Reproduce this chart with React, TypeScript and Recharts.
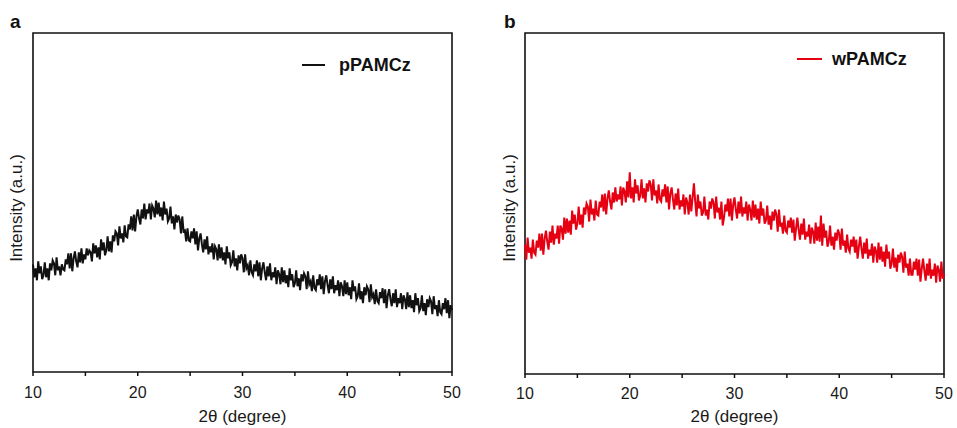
import React from "react";
import { LineChart, Line, XAxis, YAxis, ReferenceArea, Label } from "recharts";

// 2θ sampled every 0.125° from 10° to 50°
const thetaStart = 10;
const thetaStep = 0.125;

// pPAMCz intensity (a.u.) (one row per degree)
const pPAMCz = [
  108, 95, 104, 92, 111, 99, 106, 93,
  97, 110, 95, 104, 92, 109, 102, 112,
  109, 97, 115, 102, 106, 97, 108, 103,
  102, 113, 108, 119, 104, 119, 101, 114,
  121, 111, 105, 120, 110, 124, 109, 118,
  113, 124, 117, 122, 120, 111, 129, 119,
  127, 115, 125, 113, 133, 122, 130, 117,
  122, 136, 121, 131, 120, 137, 131, 141,
  139, 127, 146, 134, 139, 130, 147, 136,
  135, 148, 143, 156, 142, 158, 141, 156,
  163, 154, 148, 163, 154, 169, 153, 163,
  159, 169, 153, 167, 164, 155, 172, 158,
  170, 156, 165, 152, 171, 158, 164, 151,
  154, 166, 149, 156, 143, 158, 150, 157,
  153, 139, 156, 141, 142, 131, 144, 132,
  131, 141, 134, 144, 128, 141, 122, 134,
  139, 128, 120, 133, 123, 136, 118, 126,
  120, 129, 113, 126, 123, 112, 128, 114,
  125, 112, 120, 108, 126, 114, 120, 107,
  110, 122, 106, 114, 102, 117, 109, 118,
  114, 100, 118, 104, 107, 97, 112, 100,
  97, 108, 101, 112, 96, 110, 92, 104,
  110, 100, 92, 106, 96, 109, 92, 100,
  95, 105, 88, 102, 98, 88, 105, 90,
  102, 89, 97, 85, 104, 92, 98, 85,
  89, 102, 86, 94, 82, 98, 91, 99,
  96, 83, 101, 88, 91, 81, 97, 84,
  82, 93, 87, 98, 83, 96, 78, 91,
  97, 87, 79, 93, 83, 96, 79, 87,
  82, 92, 76, 90, 86, 76, 92, 78,
  90, 77, 85, 73, 92, 81, 86, 73,
  76, 89, 73, 81, 69, 85, 77, 86,
  83, 70, 88, 75, 78, 68, 83, 71,
  69, 80, 74, 84, 69, 83, 64, 77,
  83, 73, 66, 79, 69, 83, 65, 74,
  69, 79, 63, 77, 73, 63, 80, 65,
  77, 64, 72, 60, 79, 67, 74, 61,
  64, 77, 61, 69, 57, 73, 65, 74,
  71, 58, 76, 63, 67, 56, 72, 60,
  58, 69, 63, 74, 59, 72, 54, 67,
  62,
];

// wPAMCz intensity (a.u.) (one row per degree)
const wPAMCz = [
  129, 114, 136, 121, 126, 115, 134, 121,
  119, 133, 126, 140, 123, 140, 119, 135,
  143, 132, 124, 142, 131, 148, 129, 140,
  135, 148, 130, 148, 145, 134, 156, 140,
  155, 141, 153, 139, 163, 150, 159, 144,
  150, 167, 149, 159, 146, 166, 159, 170,
  167, 152, 174, 159, 165, 153, 173, 159,
  158, 172, 166, 179, 162, 180, 159, 175,
  183, 172, 164, 181, 171, 186, 172, 179,
  174, 187, 168, 186, 182, 171, 192, 176,
  201, 175, 186, 171, 194, 180, 188, 173,
  178, 194, 175, 185, 171, 190, 182, 193,
  189, 173, 194, 178, 183, 170, 189, 174,
  172, 184, 177, 189, 171, 187, 164, 180,
  186, 174, 164, 180, 168, 185, 164, 173,
  167, 179, 159, 176, 171, 159, 179, 162,
  176, 190, 172, 157, 179, 165, 172, 158,
  161, 177, 158, 164, 154, 172, 165, 175,
  171, 155, 177, 161, 166, 154, 172, 148,
  156, 169, 162, 175, 157, 175, 153, 169,
  176, 164, 155, 172, 160, 177, 157, 166,
  160, 172, 153, 169, 164, 153, 173, 156,
  169, 154, 165, 150, 172, 158, 165, 150,
  153, 168, 149, 158, 144, 162, 153, 164,
  159, 142, 164, 147, 151, 140, 158, 143,
  141, 153, 146, 156, 141, 154, 133, 145,
  156, 144, 134, 150, 139, 155, 134, 142,
  137, 149, 130, 146, 142, 130, 151, 133,
  147, 132, 158, 128, 150, 136, 143, 127,
  132, 148, 128, 137, 124, 141, 133, 144,
  140, 124, 145, 128, 133, 121, 139, 125,
  122, 134, 127, 137, 121, 134, 115, 127,
  137, 125, 115, 131, 120, 135, 115, 124,
  118, 130, 111, 127, 123, 111, 131, 114,
  127, 112, 122, 107, 129, 115, 122, 105,
  110, 125, 106, 116, 102, 119, 111, 121,
  117, 101, 122, 106, 110, 98, 115, 99,
  99, 112, 104, 115, 98, 114, 92, 105,
  115, 103, 93, 110, 98, 115, 95, 104,
  98, 110, 91, 108, 104, 92, 112, 95,
  100,
];

const xTicks = [10, 15, 20, 25, 30, 35, 40, 45, 50];
const xLabelTicks = [10, 20, 30, 40, 50];
const panelLetters = ["a", "b"];
const seriesNames = ["pPAMCz", "wPAMCz"];
const xTitle = "2θ (degree)";
const yTitle = "Intensity (a.u.)";

const FONT = "'Liberation Sans', Arial, sans-serif";
const BLACK = "#111111";
const RED = "#e50012";

const build = (vals: number[]) =>
  vals.map((v, i) => ({ x: thetaStart + i * thetaStep, y: v }));

const dataA = build(pPAMCz);
const dataB = build(wPAMCz);

type PanelProps = {
  data: { x: number; y: number }[];
  color: string;
  left: number;
  width: number;
  margin: { top: number; right: number; bottom: number; left: number };
  axisHeight: number;
  tickMargin: number;
};

function Panel({ data, color, left, width, margin, axisHeight, tickMargin }: PanelProps) {
  return (
    <div style={{ position: "absolute", left, top: 0 }}>
      <LineChart width={width} height={428} data={data} margin={margin}>
        <XAxis
          dataKey="x"
          type="number"
          domain={[10, 50]}
          ticks={xTicks}
          interval={0}
          height={axisHeight}
          axisLine={false}
          tickSize={4}
          tickMargin={tickMargin}
          tickLine={{ stroke: BLACK, strokeWidth: 1.5 }}
          tick={{ fill: "#1a1a1a", fontSize: 16, fontFamily: FONT }}
          tickFormatter={(v: number) => (xLabelTicks.includes(v) ? String(v) : "")}
        >
          <Label
            value={xTitle}
            position="insideBottom"
            offset={6}
            style={{ fill: "#1a1a1a", fontSize: 17, fontFamily: FONT }}
          />
        </XAxis>
        <YAxis type="number" domain={[0, 340]} hide />
        <Line
          type="linear"
          dataKey="y"
          stroke={color}
          strokeWidth={2}
          strokeLinejoin="miter"
          dot={false}
          isAnimationActive={false}
        />
        <ReferenceArea
          x1={10}
          x2={50}
          y1={0}
          y2={340}
          fill="none"
          fillOpacity={0}
          stroke={BLACK}
          strokeWidth={1.6}
          ifOverflow="visible"
        />
      </LineChart>
    </div>
  );
}

export default function App() {
  return (
    <div
      style={{
        position: "absolute",
        left: 0,
        top: 0,
        width: 957,
        height: 428,
        background: "#ffffff",
        fontFamily: FONT,
      }}
    >
      <Panel
        data={dataA}
        color={BLACK}
        left={0}
        width={480}
        margin={{ top: 33, right: 28, bottom: 0, left: 33 }}
        axisHeight={56}
        tickMargin={11}
      />
      <Panel
        data={dataB}
        color={RED}
        left={480}
        width={477}
        margin={{ top: 33, right: 13, bottom: 0, left: 45 }}
        axisHeight={54}
        tickMargin={10}
      />
      <svg
        width={957}
        height={428}
        style={{ position: "absolute", left: 0, top: 0, pointerEvents: "none" }}
      >
        <text x={10} y={28} fontSize={19} fontWeight="bold" fontFamily={FONT} fill="#111">
          {panelLetters[0]}
        </text>
        <text x={504} y={28} fontSize={19} fontWeight="bold" fontFamily={FONT} fill="#111">
          {panelLetters[1]}
        </text>
        <text
          x={22}
          y={208}
          fontSize={17}
          fontFamily={FONT}
          fill="#1a1a1a"
          textAnchor="middle"
          transform="rotate(-90 22 208)"
        >
          {yTitle}
        </text>
        <text
          x={515}
          y={208}
          fontSize={17}
          fontFamily={FONT}
          fill="#1a1a1a"
          textAnchor="middle"
          transform="rotate(-90 515 208)"
        >
          {yTitle}
        </text>
        <line x1={302} x2={325} y1={65} y2={65} stroke={BLACK} strokeWidth={2} />
        <text x={339} y={71} fontSize={18} fontWeight="bold" fontFamily={FONT} fill="#111">
          {seriesNames[0]}
        </text>
        <line x1={797} x2={822} y1={59} y2={59} stroke={RED} strokeWidth={2} />
        <text x={832} y={65} fontSize={18} fontWeight="bold" fontFamily={FONT} fill="#111">
          {seriesNames[1]}
        </text>
      </svg>
    </div>
  );
}
